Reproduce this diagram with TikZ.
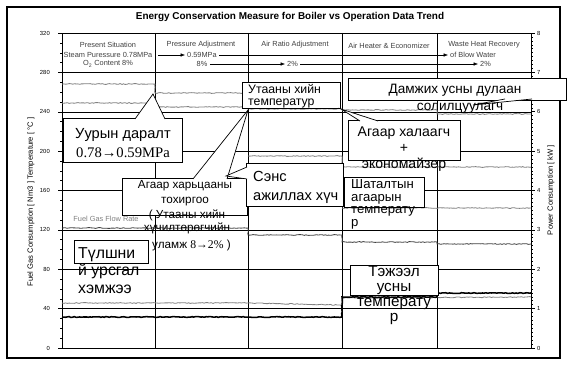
\documentclass[tikz,border=0pt]{standalone}
\usepackage{fontspec}
\setmainfont{Liberation Sans}
\newfontfamily\tnr{Liberation Serif}
\usetikzlibrary{arrows.meta}
\usetikzlibrary{decorations.pathmorphing}

\begin{document}
\begin{tikzpicture}
[x=0.3mm,y=-0.3mm,%
  every node/.style={inner sep=0pt},%
  hdr/.style={font=\fontsize{6.3}{7}\selectfont,text=black!75},%
  num/.style={font=\fontsize{5}{6}\selectfont},%
  box/.style={draw,fill=white,line width=0.6pt},%
  wedge/.style={draw,fill=white,line width=0.6pt},%
  arr/.style={-{Latex[length=4pt,width=3pt]},line width=0.5pt,shorten >=1.5pt},%
  trace/.style={gray,line width=0.7pt,decorate,%
    decoration={random steps,segment length=1.5pt,amplitude=0.35pt}},%
  rule/.style={line width=0.45pt},%
  lt/.style={anchor=base west},%
  ct/.style={anchor=base}]
\pgfmathsetseed{7}
\useasboundingbox (0,0) rectangle (567,365);
\draw[line width=1.3pt] (7,7) rectangle (560,358);
\node[font=\bfseries\fontsize{8.5}{9}\selectfont] (title) at (290,17)
  {Energy Conservation Measure for Boiler vs Operation Data Trend};

% grid and axes
\foreach \v in {40,80,...,280}
  \draw[rule] (62,{348-0.984*\v}) -- (531,{348-0.984*\v});
\foreach \x in {155,248,342,437}
  \draw[rule] (\x,33) -- (\x,348);
\draw[rule] (62,33) rectangle (531,348);
\foreach \v in {0,10,...,320}
  \draw[rule] (60,{348-0.984*\v}) -- (62,{348-0.984*\v});
\foreach \v in {0,40,...,320}{
  \draw[rule] (58,{348-0.984*\v}) -- (62,{348-0.984*\v});
  \node[num,anchor=east] (l\v) at (50,{348-0.984*\v}) {\v};}
\foreach \k in {0,...,80}
  \draw[rule] (531,{348-3.9375*\k}) -- (533,{348-3.9375*\k});
\foreach \k in {0,...,8}{
  \draw[rule] (531,{348-39.375*\k}) -- (535,{348-39.375*\k});
  \node[num,anchor=west] (r\k) at (537,{348-39.375*\k}) {\k};}
\node[num,font=\fontsize{6.5}{7}\selectfont,rotate=90] (ltitle) at (31,202)
  {Fuel Gas Consumption [ Nm3 ] Temperature [ °C ]};
\node[num,font=\fontsize{6.5}{7}\selectfont,rotate=90] (rtitle) at (551,190)
  {Power Consumption [ kW ]};

% headers
\node[hdr] (s1) at (108,45) {Present Situation};
\node[hdr] (p1) at (108,55) {Steam Puressure 0.78MPa};
\node[hdr] (o1) at (108,64) {O\textsubscript{2} Content 8\%};
\node[hdr] (s2) at (201,45) {Pressure Adjustment};
\node[hdr,anchor=west] (p2) at (187,55) {0.59MPa};
\node[hdr] (o2) at (202,64) {8\%};
\node[hdr] (s3) at (295,45) {Air Ratio Adjustment};
\node[hdr,anchor=west] (o3) at (287,64) {2\%};
\node[hdr] (s4) at (389,46) {Air Heater \& Economizer};
\node[hdr] (s5) at (484,45) {Waste Heat Recovery};
\node[hdr,anchor=west] (p5) at (450,55) {of Blow Water};
\node[hdr,anchor=west] (o5) at (480,64) {2\%};
\coordinate (p0) at (158,55);
\draw[arr] (p0) -- (p2.west);
\draw[arr] ([xshift=2pt]p2.east) -- (p5.west);
\draw[arr] ([xshift=2pt]o2.east) -- (o3.west);
\draw[arr] ([xshift=2pt]o3.east) -- (o5.west);

% data trends
\draw[trace] (62,84) -- (155,84) -- (155,93) -- (248,93);
\draw[trace] (62,103) -- (155,103) -- (155,107) -- (248,107) -- (248,109)
  -- (342,109) -- (342,110) -- (437,110) -- (437,114) -- (531,114);
\draw[trace] (248,156) -- (342,156) -- (342,167) -- (531,167);
\draw[trace] (342,208) -- (531,208);
\draw[trace,black!75] (62,228) -- (248,228) -- (248,235) -- (342,235)
  -- (342,242) -- (437,242) -- (437,244) -- (531,244);
\node[hdr,text=gray] (fuel) at (106,219) {Fuel Gas Flow Rate};
\draw[trace] (62,303) -- (248,303) -- (342,305) -- (342,298) -- (531,297);
\draw[trace,black,line width=1.3pt] (62,317) -- (342,317) -- (342,297)
  -- (437,297) -- (437,293) -- (531,293);

% callouts
\draw[box] (63,118) rectangle (182,162);
\coordinate (t1) at (153,94);
\filldraw[wedge] (135,119) -- (t1) -- (165,119);
\node[ct,font=\fontsize{12.5}{14}\selectfont] (c1a) at (123,139) {Уурын даралт};
\node[ct,font=\tnr\fontsize{12.5}{14}\selectfont] (c1b) at (123,157) {0.78→0.59MPa};

\draw[box] (242,82) rectangle (340,108);
\node[lt,font=\fontsize{10.5}{12}\selectfont] (c2a) at (248,94) {Утааны хийн};
\node[lt,font=\fontsize{10.5}{12}\selectfont] (c2b) at (248,105.5) {температур};

\draw[box] (122,178) rectangle (247,215);
\coordinate (t2) at (248,110);
\filldraw[wedge] (193,179) -- (t2) -- (227,179);
\node[ct,font=\fontsize{10}{12}\selectfont] (c3a) at (185,189) {Агаар харьцааны};
\node[ct,font=\fontsize{10}{12}\selectfont] (c3b) at (185,203) {тохиргоо};
\node[ct,font=\fontsize{10}{12}\selectfont] (c3c) at (187,218) {( Утааны хийн};
\node[ct,font=\fontsize{10}{12}\selectfont] (c3d) at (187,231.5) {хүчилтөрөгчийн};
\node[lt,font=\fontsize{10}{12}\selectfont] (c3e) at (152,248)
  {уламж {\tnr 8→2\%} )};

\draw[box] (246,163) rectangle (343,206);
\coordinate (t4) at (226,176);
\filldraw[wedge] (247,167) -- (t4) -- (247,179);
\node[lt,font=\fontsize{12.5}{15}\selectfont] (c4a) at (253,181.5) {Сэнс};
\node[lt,font=\fontsize{12.5}{15}\selectfont] (c4b) at (253,200.5) {ажиллах хүч};

\draw[box] (348,78) rectangle (566,100);
\coordinate (t5) at (473,105);
\filldraw[wedge] (505,99) -- (t5) -- (532,99);
\node[ct,font=\fontsize{11.6}{13}\selectfont] (c5a) at (455,94) {Дамжих усны дулаан};
\node[ct,font=\fontsize{11.6}{13}\selectfont] (c5b) at (460,111) {солилцуулагч};

\draw[box] (348,120) rectangle (460,160);
\coordinate (t6) at (341,109);
\filldraw[wedge] (360,121) -- (t6) -- (378,121);
\node[ct,font=\fontsize{12}{14}\selectfont] (c6a) at (404,137) {Агаар халаагч};
\node[ct,font=\fontsize{12}{14}\selectfont] (c6b) at (404,153) {+};
\node[ct,font=\fontsize{12}{14}\selectfont] (c6c) at (404,169) {экономайзер};

\draw[box] (344,177) rectangle (424,207);
\node[lt,font=\fontsize{11.2}{13}\selectfont] (c7a) at (351,188) {Шаталтын};
\node[lt,font=\fontsize{11.2}{13}\selectfont] (c7b) at (351,201) {агаарын};
\node[lt,font=\fontsize{11.2}{13}\selectfont] (c7c) at (351,214) {температу};
\node[lt,font=\fontsize{11.2}{13}\selectfont] (c7d) at (351,226.5) {р};

\draw[box] (74,240) rectangle (148,263);
\node[lt,font=\fontsize{13.5}{15}\selectfont] (c8a) at (78,258) {Түлшни};
\node[lt,font=\fontsize{13.5}{15}\selectfont] (c8b) at (78,275.5) {й урсгал};
\node[lt,font=\fontsize{13.5}{15}\selectfont] (c8c) at (78,293) {хэмжээ};

\draw[box] (350,265) rectangle (438,295);
\node[ct,font=\fontsize{13}{15}\selectfont] (c9a) at (394,276.5) {Тэжээл};
\node[ct,font=\fontsize{13}{15}\selectfont] (c9b) at (394,291.5) {усны};
\node[ct,font=\fontsize{13}{15}\selectfont] (c9c) at (394,306.5) {температу};
\node[ct,font=\fontsize{13}{15}\selectfont] (c9d) at (394,321.5) {р};
\end{tikzpicture}
\end{document}
